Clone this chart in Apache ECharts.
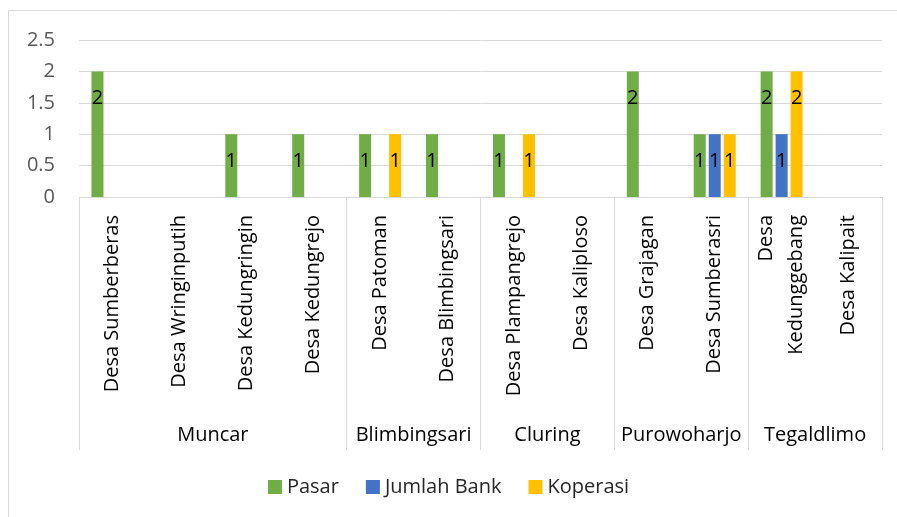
<!DOCTYPE html>
<html>
<head>
<meta charset="utf-8">
<script src="https://cdn.jsdelivr.net/npm/echarts@6/dist/echarts.min.js"></script>
<style>
  html, body { margin: 0; padding: 0; background: #fff; }
  #chart { width: 897px; height: 517px; }
</style>
</head>
<body>
<div id="chart"></div>
<script>
// villages (first level of the category axis)
var desa = [
  "Desa Sumberberas", "Desa Wringinputih", "Desa Kedungringin", "Desa Kedungrejo",
  "Desa Patoman", "Desa Blimbingsari",
  "Desa Plampangrejo", "Desa Kaliploso",
  "Desa Grajagan", "Desa Sumberasri",
  "Desa\nKedunggebang", "Desa Kalipait"
];
// districts (second level) and how many villages each holds
var kecamatan = ["Muncar", "Blimbingsari", "Cluring", "Purowoharjo", "Tegaldlimo"];
var jumlahDesa = [4, 2, 2, 2, 2];

var pasar       = [2, 0, 1, 1, 1, 1, 1, 0, 2, 1, 2, 0];
var jumlahBank  = [0, 0, 0, 0, 0, 0, 0, 0, 0, 1, 1, 0];
var koperasi    = [0, 0, 0, 0, 1, 0, 1, 0, 0, 1, 2, 0];

var yTicks = [0, 0.5, 1, 1.5, 2, 2.5];

// half-category slots for the district row: labels at group centres, ticks at group edges
var grupSlot = [];
var batas = {};
var pos = 0;
batas[0] = true;
for (var i = 0; i <= desa.length * 2; i++) grupSlot.push("");
kecamatan.forEach(function (k, i) {
  grupSlot[pos * 2 + jumlahDesa[i]] = k;
  pos += jumlahDesa[i];
  batas[pos * 2] = true;
});

var font = "'Open Sans', 'Noto Sans', sans-serif";

function labelSeri() {
  return {
    show: true,
    position: "insideTop",
    distance: 17,
    color: "#000",
    fontSize: 20,
    fontFamily: font,
    formatter: function (p) { return p.value ? String(p.value) : ""; }
  };
}

var chart = echarts.init(document.getElementById("chart"));
var option = {
  animation: false,
  graphic: [{
    type: "rect",
    shape: { x: 8.5, y: 10.5, width: 1000, height: 1000 },
    style: { fill: "none", stroke: "#d9d9d9", lineWidth: 1 },
    silent: true
  }],
  grid: { left: 79, right: 15, top: 40, bottom: 320, containLabel: false },
  legend: {
    bottom: 15,
    left: "center",
    icon: "rect",
    itemWidth: 14,
    itemHeight: 14,
    itemGap: 27,
    textStyle: { fontSize: 20, color: "#262626", fontFamily: font },
    data: ["Pasar", "Jumlah Bank", "Koperasi"]
  },
  xAxis: [
    {
      type: "category",
      data: desa,
      axisLine: { lineStyle: { color: "#d9d9d9" } },
      axisTick: { show: false },
      axisLabel: {
        interval: 0,
        rotate: 90,
        margin: 18,
        fontSize: 20,
        lineHeight: 30,
        color: "#000",
        fontFamily: font
      }
    },
    {
      type: "category",
      position: "bottom",
      offset: 253,
      boundaryGap: false,
      data: grupSlot,
      axisLine: { show: false },
      axisTick: {
        show: true,
        inside: true,
        length: 253,
        interval: function (idx) { return !!batas[idx]; },
        lineStyle: { color: "#d9d9d9" }
      },
      axisLabel: {
        inside: true,
        interval: 0,
        margin: 5,
        fontSize: 20,
        color: "#000",
        fontFamily: font
      }
    }
  ],
  yAxis: {
    type: "value",
    min: yTicks[0],
    max: yTicks[yTicks.length - 1],
    interval: 0.5,
    axisLine: { show: false },
    axisTick: { show: false },
    splitLine: { lineStyle: { color: "#d9d9d9" } },
    axisLabel: { margin: 24, fontSize: 20, color: "#595959", fontFamily: font }
  },
  series: [
    { name: "Pasar", type: "bar", data: pasar, barWidth: 12, barGap: "25%",
      itemStyle: { color: "#70ad47" }, label: labelSeri() },
    { name: "Jumlah Bank", type: "bar", data: jumlahBank, barWidth: 12, barGap: "25%",
      itemStyle: { color: "#4472c4" }, label: labelSeri() },
    { name: "Koperasi", type: "bar", data: koperasi, barWidth: 12, barGap: "25%",
      itemStyle: { color: "#ffc000" }, label: labelSeri() }
  ]
};
chart.setOption(option);
window.addEventListener("resize", function () { chart.resize(); });
</script>
</body>
</html>
